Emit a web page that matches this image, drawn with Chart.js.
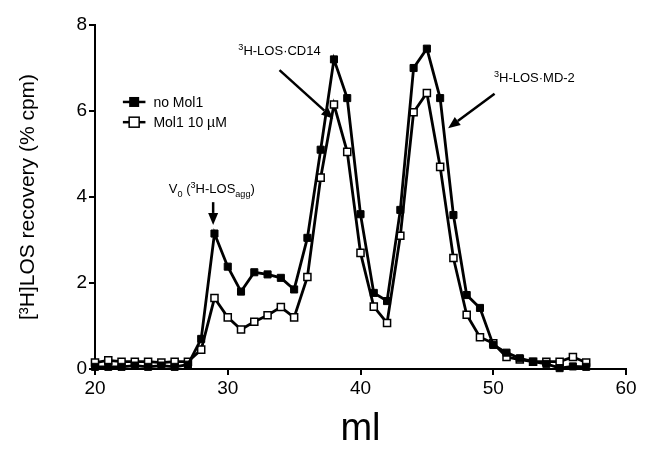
<!DOCTYPE html>
<html>
<head>
<meta charset="utf-8">
<script src="https://cdn.jsdelivr.net/npm/chart.js@4.4.0/dist/chart.umd.min.js"></script>
<style>
  html, body { margin: 0; padding: 0; background: #fff; }
  #wrap { width: 651px; height: 456px; }
</style>
</head>
<body>
<div id="wrap"><canvas id="miGrafica"></canvas></div>
<script>
// fracciones (ml)
var mlValues = [20, 21, 22, 23, 24, 25, 26, 27, 28, 29, 30, 31, 32, 33, 34, 35, 36, 37, 38,
                39, 40, 41, 42, 43, 44, 45, 46, 47, 48, 49, 50, 51, 52, 53, 54, 55, 56, 57]

// % cpm
var noMol1 = [0.05, 0.05, 0.05, 0.08, 0.05, 0.08, 0.05, 0.1, 0.7, 3.15, 2.38, 1.8, 2.25, 2.2, 2.12, 1.85, 3.05, 5.1, 7.2,
              6.3, 3.6, 1.77, 1.58, 3.7, 7.0, 7.45, 6.3, 3.58, 1.72, 1.42, 0.56, 0.38, 0.25, 0.17, 0.12, 0.02, 0.06, 0.05]
var mol1 = [0.15, 0.2, 0.17, 0.17, 0.17, 0.15, 0.17, 0.17, 0.45, 1.65, 1.2, 0.92, 1.1, 1.25, 1.44, 1.2, 2.14, 4.45, 6.15,
            5.05, 2.7, 1.45, 1.07, 3.1, 5.97, 6.42, 4.7, 2.58, 1.26, 0.74, 0.6, 0.28, 0.22, 0.17, 0.17, 0.17, 0.28, 0.15]

var xTicks = [20, 30, 40, 50, 60]
var yTicks = [0, 2, 4, 6, 8]

var nombres = ['no Mol1', 'Mol1 10 \u00B5M']

function puntos(valores){
    return mlValues.map(function(m, i){ return {x: m, y: valores[i]} })
}

var fuente = '"Liberation Sans", Arial, sans-serif'

// texto con superindices / subindices
function textoRico(ctx, partes, cx, cy, size){
    var total = 0
    partes.forEach(function(p){
        ctx.font = (p.s ? size * 0.7 : size) + 'px ' + fuente
        total += ctx.measureText(p.t).width
    })
    var x = cx - total / 2
    ctx.textAlign = 'left'
    ctx.textBaseline = 'alphabetic'
    partes.forEach(function(p){
        ctx.font = (p.s ? size * 0.7 : size) + 'px ' + fuente
        var dy = 0
        if (p.s == 'sup') dy = -size * 0.4
        if (p.s == 'sub') dy = size * 0.3
        ctx.fillText(p.t, x, cy + dy)
        x += ctx.measureText(p.t).width
    })
}

function flecha(ctx, x1, y1, x2, y2){
    var ang = Math.atan2(y2 - y1, x2 - x1)
    var largo = 12, ancho = 5
    var bx = x2 - largo * Math.cos(ang), by = y2 - largo * Math.sin(ang)
    ctx.strokeStyle = '#000'
    ctx.lineWidth = 2.5
    ctx.beginPath()
    ctx.moveTo(x1, y1)
    ctx.lineTo(bx, by)
    ctx.stroke()
    ctx.fillStyle = '#000'
    ctx.beginPath()
    ctx.moveTo(x2, y2)
    ctx.lineTo(bx + ancho * Math.sin(ang), by - ancho * Math.cos(ang))
    ctx.lineTo(bx - ancho * Math.sin(ang), by + ancho * Math.cos(ang))
    ctx.closePath()
    ctx.fill()
}

var anotaciones = {
    id: 'anotaciones',
    afterDatasetsDraw: function(chart){
        var ctx = chart.ctx
        var sx = chart.scales.x, sy = chart.scales.y
        function px(v){ return sx.getPixelForValue(v) }
        function py(v){ return sy.getPixelForValue(v) }
        ctx.save()
        ctx.fillStyle = '#000'

        // V0
        textoRico(ctx, [{t: 'V'}, {t: '0', s: 'sub'}, {t: ' ('}, {t: '3', s: 'sup'}, {t: 'H-LOS'}, {t: 'agg', s: 'sub'}, {t: ')'}],
                  px(28.8), py(4.1), 13)
        flecha(ctx, px(28.9), py(3.88), px(28.9), py(3.35))

        // CD14
        textoRico(ctx, [{t: '3', s: 'sup'}, {t: 'H-LOS\u00B7CD14'}], px(33.9), py(7.3), 13)
        flecha(ctx, px(33.9), py(6.95), px(37.95), py(5.82))

        // MD-2
        textoRico(ctx, [{t: '3', s: 'sup'}, {t: 'H-LOS\u00B7MD-2'}], px(53.1), py(6.68), 13)
        flecha(ctx, px(50.1), py(6.4), px(46.6), py(5.6))

        // leyenda
        var filas = [py(6.21), py(5.74)]
        var x1 = px(22.1), x2 = px(23.8), xm = (x1 + x2) / 2
        filas.forEach(function(y, i){
            ctx.strokeStyle = '#000'
            ctx.lineWidth = 2.5
            ctx.beginPath()
            ctx.moveTo(x1, y)
            ctx.lineTo(x2, y)
            ctx.stroke()
            if (i == 0) {
                ctx.fillStyle = '#000'
                ctx.fillRect(xm - 5, y - 5, 10, 10)
            } else {
                ctx.fillStyle = '#fff'
                ctx.fillRect(xm - 5, y - 5, 10, 10)
                ctx.lineWidth = 1.5
                ctx.strokeRect(xm - 5, y - 5, 10, 10)
            }
            ctx.fillStyle = '#000'
            ctx.font = '14px ' + fuente
            ctx.textAlign = 'left'
            ctx.textBaseline = 'middle'
            ctx.fillText(nombres[i], px(24.4), y + 1)
        })
        ctx.restore()
    }
}

new Chart('miGrafica', {
    type: 'line',
    data: {
        datasets: [{
            label: nombres[0],
            data: puntos(noMol1),
            borderColor: '#000',
            borderWidth: 2.8,
            backgroundColor: '#000',
            pointStyle: 'rect',
            pointRadius: 5,
            pointBorderWidth: 1,
            pointBorderColor: '#000',
            pointBackgroundColor: '#000',
            tension: 0,
            clip: false
        }, {
            label: nombres[1],
            data: puntos(mol1),
            borderColor: '#000',
            borderWidth: 2.8,
            backgroundColor: '#fff',
            pointStyle: 'rect',
            pointRadius: 5,
            pointBorderWidth: 1.5,
            pointBorderColor: '#000',
            pointBackgroundColor: '#fff',
            tension: 0,
            clip: false
        }]
    },
    options: {
        responsive: true,
        maintainAspectRatio: false,
        animation: false,
        layout: { padding: { top: 25, right: 25, left: 0, bottom: 0 } },
        plugins: {
            legend: { display: false },
            tooltip: { enabled: false }
        },
        scales: {
            x: {
                type: 'linear',
                min: 20,
                max: 60,
                afterBuildTicks: function(s){ s.ticks = xTicks.map(function(v){ return {value: v} }) },
                afterFit: function(s){ s.height = 87 },
                grid: { drawOnChartArea: false, color: '#000', lineWidth: 2, tickLength: 6 },
                border: { color: '#000', width: 2 },
                ticks: { color: '#000', font: { family: fuente, size: 19 }, padding: 2, maxRotation: 0 },
                title: { display: true, text: 'ml', color: '#000', font: { family: fuente, size: 38 }, padding: { top: 2 } }
            },
            y: {
                min: 0,
                max: 8,
                afterBuildTicks: function(s){ s.ticks = yTicks.map(function(v){ return {value: v} }) },
                afterFit: function(s){ s.width = 95 },
                grid: { drawOnChartArea: false, color: '#000', lineWidth: 2, tickLength: 6 },
                border: { color: '#000', width: 2 },
                ticks: { color: '#000', font: { family: fuente, size: 19 }, padding: 2 },
                title: { display: true, text: '[\u00B3H]LOS recovery (% cpm)', color: '#000', font: { family: fuente, size: 21 }, padding: { top: 16, bottom: 4 } }
            }
        }
    },
    plugins: [anotaciones]
})
</script>
</body>
</html>
